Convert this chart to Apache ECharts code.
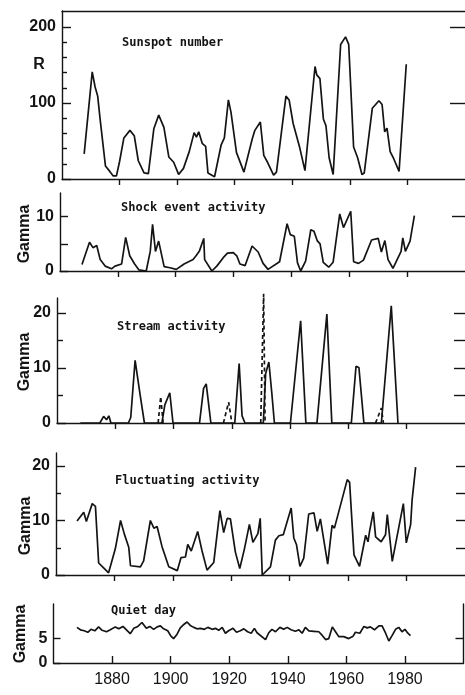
<!DOCTYPE html>
<html>
<head>
<meta charset="utf-8">
<script src="https://cdn.jsdelivr.net/npm/echarts@6/dist/echarts.min.js"></script>
<style>
  html, body { margin: 0; padding: 0; background: #fff; }
  #chart { width: 465px; height: 695px; }
</style>
</head>
<body>
<div id="chart"></div>
<script>
// Year ticks shared by every panel
const yearTicks = [1880, 1900, 1920, 1940, 1960, 1980];

// Sunspot number R, [year, R]
const sunspot = [
  [1867.7, 33], [1870.5, 141], [1871.5, 121], [1872.4, 109], [1873.2, 80], [1875.1, 17],
  [1876.6, 10], [1877.8, 4], [1878.9, 4], [1880, 23], [1881.5, 54], [1883.6, 64],
  [1885.1, 57], [1886.5, 24], [1888.5, 8], [1890, 7], [1891.9, 66], [1893.6, 84],
  [1895.4, 68], [1897.1, 29], [1898.8, 22], [1900.5, 6], [1902.2, 14], [1904.2, 36],
  [1905.9, 61], [1906.7, 55], [1907.5, 62], [1908.7, 47], [1909.9, 43], [1910.7, 8],
  [1913, 3], [1915.3, 45], [1916.4, 54], [1917.8, 104], [1918.7, 88], [1920.6, 35],
  [1923.2, 9], [1926.1, 53], [1927, 64], [1928.9, 75], [1930.1, 31], [1931.4, 22],
  [1933.5, 5], [1934.5, 9], [1937.8, 109], [1938.9, 104], [1940.3, 73], [1942.6, 41],
  [1944.4, 11], [1947.9, 148], [1948.5, 137], [1949.6, 132], [1950.8, 79], [1951.7, 70],
  [1952.8, 28], [1954.2, 6], [1956.8, 177], [1958.5, 187], [1959.6, 177], [1961.3, 42],
  [1962.7, 28], [1964.2, 6], [1965, 8], [1967.8, 93], [1970.1, 103], [1971.2, 98],
  [1972.1, 62], [1972.9, 67], [1974, 36], [1975.2, 27], [1977.1, 10], [1979.6, 151]
];

// Shock event activity (gamma)
const shock = [
  [1867.6, 1.2], [1870.2, 5.3], [1871.4, 4.3], [1872.7, 4.7], [1873.9, 2.1], [1875.6, 0.9],
  [1877.8, 0.4], [1879, 0.9], [1881.3, 1.3], [1882.7, 6.2], [1884.1, 2.8], [1885.8, 1.3],
  [1887.3, 0.2], [1889.8, 0], [1891.2, 3.6], [1892, 8.6], [1893, 3.6], [1894.1, 5.5],
  [1896, 0.8], [1898, 0.6], [1900.2, 0.3], [1902.9, 1.3], [1906, 2.1], [1906.9, 2.7],
  [1908.2, 3.7], [1909.7, 6], [1910, 2.1], [1912.5, 0], [1914.2, 0.9], [1916.5, 2.5],
  [1917.9, 3.3], [1919.9, 3.4], [1921.1, 2.8], [1922.2, 1.3], [1924, 1], [1926.4, 4.6],
  [1928.5, 3.5], [1930.2, 1.4], [1931.9, 0.3], [1935.9, 1.7], [1938.5, 8.7], [1939.6, 6.7],
  [1941, 6.4], [1942.1, 1.5], [1943.2, 0], [1944.9, 1.8], [1946.7, 7.6], [1947.8, 7.3],
  [1948.9, 5.6], [1949.9, 5], [1951, 1.6], [1952.9, 0.7], [1954.4, 1.6], [1956.7, 10.5],
  [1958, 8], [1960.5, 11], [1961.5, 1.7], [1963.2, 1.4], [1964.9, 2], [1967.7, 5.7],
  [1970, 6], [1971.1, 3.5], [1972.3, 5.6], [1973.4, 2.1], [1975.1, 0.5], [1977.9, 3.6],
  [1978.5, 6.1], [1979.4, 3.6], [1981, 5.5], [1982.5, 10.2]
];

// Stream activity (gamma): identified streams
const streamSolid = [
  [1868, 0], [1874.7, 0], [1876, 1.2], [1877, 0.6], [1877.8, 1.3], [1878.5, 0],
  [1884.5, 0], [1885.3, 1], [1886.8, 11.4], [1888.5, 5.2], [1890, 0],
  [1896, 0], [1897, 3.3], [1898.7, 5.5], [1899.8, 0],
  [1908.9, 0], [1910.3, 6.3], [1911.2, 7.1], [1912.8, 0],
  [1921, 0], [1922.5, 10.8], [1923.5, 1.3], [1924.5, 0],
  [1930.8, 0], [1931.6, 9], [1932.7, 11.1], [1933.7, 5.5], [1934.6, 0],
  [1940.1, 0], [1943.6, 18.6], [1945.4, 0],
  [1949.2, 0], [1952.6, 19.8], [1954.3, 0],
  [1961, 0], [1962.6, 10.3], [1963.6, 10.1], [1965.3, 0],
  [1971.3, 0], [1974.7, 21.3], [1977, 0]
];
// Stream activity: uncertain streams, '-' breaks the dashed line
const streamDashed = [
  [1894.7, 0], [1895.6, 4.8], [1896.4, 0], [1896.5, '-'],
  [1917.1, 0], [1918.9, 3.8], [1920, 0], [1920.1, '-'],
  [1929.9, 0], [1930.9, 23.5], [1931.4, 0], [1931.5, '-'],
  [1969.3, 0], [1971.3, 2.7], [1972, 0]
];

// Fluctuating activity (gamma)
const fluctuating = [
  [1867.2, 9.9], [1869.5, 11.5], [1870.4, 9.8], [1872.4, 13.1], [1873.5, 12.6], [1874.6, 2.2],
  [1876.3, 1.3], [1878, 0.4], [1880.3, 4.8], [1882.1, 10], [1883.4, 7.5], [1884.9, 5.1],
  [1885.5, 1.7], [1888.9, 1.5], [1890, 2.6], [1892.3, 10], [1893.5, 8.6], [1894.6, 8.9],
  [1896.3, 5.2], [1898.6, 1.5], [1901.5, 0.8], [1902.8, 3.2], [1904.3, 3.3], [1905.1, 5.6],
  [1906.3, 4.4], [1908.5, 8], [1910, 4.4], [1911.7, 0.9], [1914, 2.3], [1916.1, 11.8],
  [1917.4, 7.8], [1918.6, 10.4], [1919.7, 10.3], [1921.4, 4.2], [1922.9, 1.2], [1924.5, 4.8],
  [1926.2, 9.3], [1927.4, 6], [1929.1, 7.6], [1929.9, 10.4], [1930.6, 0], [1933.4, 1.5],
  [1935.1, 6.4], [1936.3, 7.2], [1937.8, 7.4], [1940.5, 12.3], [1941.4, 6.8], [1942.3, 5.6],
  [1943.5, 1.6], [1944.8, 3.1], [1946.5, 11.2], [1948.3, 11.4], [1949.4, 8], [1950.5, 10.3],
  [1953, 2], [1954.5, 9.1], [1955.3, 8.6], [1959.7, 17.5], [1960.5, 17], [1962, 3.7],
  [1963.9, 1.6], [1966, 7.3], [1966.8, 6.1], [1967.3, 7.9], [1968.6, 11.6], [1969.4, 7],
  [1971.3, 6.1], [1972.8, 7.4], [1973.4, 11.1], [1975.1, 2.5], [1978.9, 13.1], [1979.9, 5.9],
  [1981.4, 9.3], [1981.9, 13.8], [1983.1, 19.8]
];

// Quiet day level (gamma)
const quiet = [
  [1868, 7.3], [1869.2, 6.8], [1870.5, 6.6], [1871.7, 6.3], [1872.8, 6.9], [1874.1, 6.6],
  [1875.4, 7.4], [1876.6, 6.7], [1878.1, 6.4], [1879.4, 6.8], [1881.1, 7.4], [1882.3, 7],
  [1883.7, 7.5], [1886.2, 6], [1887.4, 7.1], [1888.8, 7.5], [1890.2, 8.3], [1891.7, 7.1],
  [1892.9, 7.5], [1894.2, 6.9], [1895.4, 7.4], [1896.5, 7.6], [1897.6, 7], [1899, 6.6],
  [1900.1, 5.5], [1901, 5], [1902.2, 5.9], [1903.3, 7.2], [1904.5, 7.9], [1905.6, 8.4],
  [1906.7, 7.7], [1907.9, 7.3], [1909, 7], [1910.2, 7.1], [1911.5, 6.9], [1912.7, 7.3],
  [1914.2, 6.9], [1915.3, 7.1], [1916.4, 6.7], [1917.6, 7.3], [1918.7, 6.1], [1919.8, 6.6],
  [1921.3, 7.1], [1922.5, 6.3], [1923.8, 6.6], [1925, 7], [1926.3, 6.4], [1927.5, 6.1],
  [1928.6, 7.1], [1929.5, 6.2], [1932.4, 4.8], [1933.5, 6.2], [1934.6, 6.9], [1935.8, 6.4],
  [1937.3, 7.3], [1938.6, 6.9], [1939.8, 7.3], [1941.1, 6.8], [1942.6, 6.5], [1943.8, 6.8],
  [1944.9, 6.1], [1946, 7.3], [1947.2, 6.6], [1948.9, 6.5], [1950.6, 6.4], [1951.7, 5.7],
  [1952.9, 4.8], [1954, 5], [1955.2, 7.4], [1956.3, 6.4], [1957.4, 5.4], [1959.1, 5.4],
  [1960.8, 5], [1962.3, 5.5], [1963.1, 6.3], [1964.6, 6.1], [1966, 7.5], [1967.1, 7.2],
  [1968.2, 7.4], [1969.6, 6.8], [1971.1, 7.6], [1972.2, 7.6], [1973.4, 6.1], [1974.5, 4.5],
  [1975.6, 5.6], [1976.8, 6.9], [1977.9, 7.3], [1979, 6.4], [1980, 6.9], [1981, 6.1],
  [1981.9, 5.6]
];

// ---- layout and styling ----
const ink = '#141414';
const NUM_FONT = '"Liberation Sans", Arial, sans-serif';
const TITLE_FONT = '"DejaVu Sans Mono", monospace';

const panels = [
  { title: 'Sunspot number', tx: 122, ty: 37, left: 62, top: 11, width: 410, height: 168, max: 221,
    major: [0, 100, 200], minor: [20, 40, 60, 80, 120, 140, 160, 180], labels: [0, 100, 200],
    right: [100, 200], rightLen: 15, majorLen: 9, minorLen: 5, frameTop: true,
    lines: [{ data: sunspot }] },
  { title: 'Shock event activity', tx: 121, ty: 202, left: 60, top: 193, width: 410, height: 78, max: 14.36,
    major: [0, 5, 10], minor: [], labels: [0, 10],
    right: [10], rightLen: 13, majorLen: 8, minorLen: 5,
    lines: [{ data: shock }] },
  { title: 'Stream activity', tx: 117, ty: 321, left: 57, top: 298, width: 411, height: 125, max: 22.73,
    major: [0, 10, 20], minor: [5, 15], labels: [0, 10, 20],
    right: [5, 10, 15, 20], rightLen: 11, majorLen: 9, minorLen: 6,
    lines: [{ data: streamSolid }, { data: streamDashed, dashed: true }] },
  { title: 'Fluctuating activity', tx: 115, ty: 475, left: 56, top: 453, width: 409, height: 122, max: 22.39,
    major: [0, 10, 20], minor: [5, 15], labels: [0, 10, 20],
    right: [5, 10, 15, 20], rightLen: 9, majorLen: 9, minorLen: 5,
    lines: [{ data: fluctuating }] },
  { title: 'Quiet day', tx: 111, ty: 605, left: 53.5, top: 604, width: 410, height: 59, max: 12.09,
    major: [0, 5], minor: [], labels: [0, 5],
    right: [5], rightLen: 8, majorLen: 7, minorLen: 5, showRightLine: true,
    lines: [{ data: quiet }] }
];

const grid = [], xAxis = [], yAxis = [], series = [], title = [];
const axisLineStyle = { color: ink, width: 1.4 };

panels.forEach((p, i) => {
  const last = i === panels.length - 1;
  grid.push({ left: p.left, top: p.top, width: p.width, height: p.height, containLabel: false });

  const xBottom = xAxis.length;
  xAxis.push({
    type: 'value', gridIndex: i, min: 1860, max: 2000, position: 'bottom',
    axisLine: { show: true, onZero: false, lineStyle: axisLineStyle },
    axisTick: { show: true, inside: last, length: last ? 7 : 6, customValues: yearTicks, lineStyle: axisLineStyle },
    axisLabel: { show: last, customValues: yearTicks, margin: 9, color: ink, fontSize: 16,
                 fontFamily: NUM_FONT, formatter: v => String(v) },
    splitLine: { show: false }
  });
  if (p.frameTop) {
    xAxis.push({
      type: 'value', gridIndex: i, min: 1860, max: 2000, position: 'top',
      axisLine: { show: true, onZero: false, lineStyle: axisLineStyle },
      axisTick: { show: false }, axisLabel: { show: false }, splitLine: { show: false }
    });
  }

  const yMain = yAxis.length;
  yAxis.push({
    type: 'value', gridIndex: i, min: 0, max: p.max, position: 'left',
    axisLine: { show: true, onZero: false, lineStyle: axisLineStyle },
    axisTick: { show: true, inside: true, length: p.majorLen, customValues: p.major, lineStyle: axisLineStyle },
    axisLabel: { show: true, customValues: p.labels, margin: 6, color: ink, fontSize: 16,
                 fontWeight: 'bold', fontFamily: NUM_FONT, formatter: v => String(v) },
    splitLine: { show: false }
  });
  if (p.minor.length) {
    yAxis.push({
      type: 'value', gridIndex: i, min: 0, max: p.max, position: 'left', offset: 0,
      axisLine: { show: false },
      axisTick: { show: true, inside: true, length: p.minorLen, customValues: p.minor, lineStyle: axisLineStyle },
      axisLabel: { show: false }, splitLine: { show: false }
    });
  }
  yAxis.push({
    type: 'value', gridIndex: i, min: 0, max: p.max, position: 'right',
    axisLine: { show: !!p.showRightLine, onZero: false, lineStyle: axisLineStyle },
    axisTick: { show: true, inside: true, length: p.rightLen, customValues: p.right, lineStyle: axisLineStyle },
    axisLabel: { show: false }, splitLine: { show: false }
  });

  p.lines.forEach(l => {
    series.push({
      type: 'line', xAxisIndex: xBottom, yAxisIndex: yMain, data: l.data,
      showSymbol: false, symbol: 'none', connectNulls: false, clip: false,
      lineStyle: { color: ink, width: 1.7, type: l.dashed ? [4, 3] : 'solid' },
      silent: true
    });
  });

  title.push({
    text: p.title, left: p.tx, top: p.ty, padding: 0,
    textStyle: { fontFamily: TITLE_FONT, fontWeight: 'bold', fontSize: 12, color: ink }
  });
});

// Axis names drawn as free text
const nameStyle = { fill: ink, fontSize: 16, fontWeight: 'bold', fontFamily: NUM_FONT,
                    textAlign: 'center', textVerticalAlign: 'middle' };
const gammaAt = [[25, 234], [25, 362], [25.5, 526], [21, 634]];
const graphic = gammaAt.map(([x, y]) => ({
  type: 'text', x, y, rotation: Math.PI / 2, silent: true,
  style: Object.assign({ text: 'Gamma' }, nameStyle)
}));
graphic.push({ type: 'text', x: 39, y: 65, silent: true, style: Object.assign({ text: 'R' }, nameStyle) });

const chart = echarts.init(document.getElementById('chart'), null, { renderer: 'canvas', width: 465, height: 695 });
chart.setOption({
  animation: false,
  backgroundColor: '#ffffff',
  title, grid, xAxis, yAxis, series, graphic
});
</script>
</body>
</html>
